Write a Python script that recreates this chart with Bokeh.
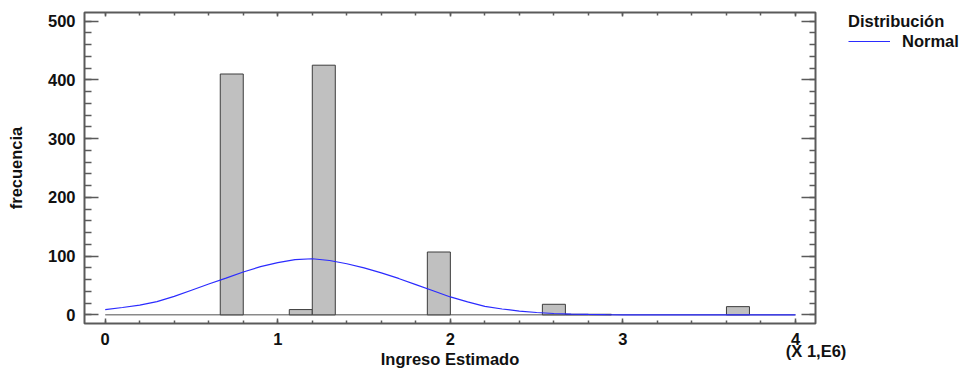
from bokeh.plotting import figure
from bokeh.layouts import row
from bokeh.models import (Range1d, LinearAxis, SingleIntervalTicker, Legend, LegendItem,
                          ColumnDataSource)
from bokeh.embed import file_html
from bokeh.resources import INLINE

# ---- data (income in units of 1e6) ----
bin_lo = [0.6667, 1.0667, 1.2000, 1.8667, 2.5333, 2.6667, 2.8000, 3.6000]
bin_hi = [0.8000, 1.2000, 1.3333, 2.0000, 2.6667, 2.8000, 2.9333, 3.7333]
freq = [410, 9, 425, 107, 18, 1, 1, 14]

# fitted normal curve
curve_x = [0.0, 0.1, 0.2, 0.3, 0.4, 0.5, 0.6, 0.7, 0.8, 0.9, 1.0, 1.1, 1.2, 1.3, 1.4,
           1.5, 1.6, 1.7, 1.8, 1.9, 2.0, 2.1, 2.2, 2.3, 2.4, 2.5, 2.6, 2.7, 2.8, 2.9,
           3.0, 3.2, 3.4, 3.6, 3.8, 4.0]
curve_y = [9.0, 12.5, 16.5, 22.5, 31.5, 42.0, 52.5, 62.5, 73.0, 82.0, 89.0, 94.0, 95.5,
           92.5, 87.0, 80.0, 71.5, 62.0, 51.5, 41.0, 30.5, 22.0, 14.5, 10.0, 6.5, 4.0,
           2.3, 1.3, 0.7, 0.3, 0.1, 0.0, 0.0, 0.0, 0.0, 0.0]

x_title = "Ingreso Estimado"
y_title = "frecuencia"
scale_note = "(X 1,E6)"
legend_title = "Distribución"
legend_label = "Normal"

FONT = "Liberation Sans"
FS = "16.5px"
TXT = "#111111"
GRAY = "#5a5a5a"
BLUE = "#2b2bff"

MAIN_W = 848

p = figure(width=MAIN_W, height=371, output_backend="svg", toolbar_location=None,
           x_range=Range1d(-0.12, 4.116), y_range=Range1d(-14.7, 514.7),
           x_axis_location=None, y_axis_location=None,
           min_border_left=84, min_border_right=MAIN_W - 815, min_border_top=12,
           min_border_bottom=46)
p.grid.visible = False
p.outline_line_color = GRAY
p.outline_line_width = 2
p.background_fill_color = "white"
p.border_fill_color = "white"

# zero baseline under the distribution
p.line([curve_x[0], curve_x[-1]], [0, 0], line_color="#8a8a8a", line_width=1.5)

src = ColumnDataSource(dict(lo=bin_lo, hi=bin_hi, top=freq, bottom=[0] * len(freq)))
p.quad(left="lo", right="hi", top="top", bottom="bottom", source=src,
       fill_color="#c0c0c0", line_color="#3c3c3c", line_width=1)

p.line(curve_x, curve_y, line_color=BLUE, line_width=1.2)

xt = SingleIntervalTicker(interval=1, num_minor_ticks=5)
yt = SingleIntervalTicker(interval=100, num_minor_ticks=5)

def style(ax, tin, tmin, labels=True):
    ax.axis_line_color = None
    ax.major_tick_line_color = GRAY
    ax.minor_tick_line_color = GRAY
    ax.major_tick_line_width = 1.5
    ax.minor_tick_line_width = 1.5
    ax.major_tick_in = tin
    ax.major_tick_out = 0
    ax.minor_tick_in = tmin
    ax.minor_tick_out = 0
    if labels:
        ax.major_label_text_font = FONT
        ax.major_label_text_font_style = "bold"
        ax.major_label_text_font_size = FS
        ax.major_label_text_color = TXT
        ax.axis_label_text_font = FONT
        ax.axis_label_text_font_style = "bold"
        ax.axis_label_text_font_size = FS
        ax.axis_label_text_color = TXT
    else:
        ax.major_label_text_font_size = "0px"
        ax.major_label_standoff = 0

xb = LinearAxis(ticker=xt, axis_label=x_title)
style(xb, 5, 3)
xb.major_label_standoff = 6
xb.major_label_text_line_height = 0.7
xb.major_label_overrides = {4: "4\n" + "\u00a0" * 9 + scale_note}
xb.axis_label_standoff = -13
xb.axis_label_text_line_height = 0.8
p.add_layout(xb, "below")

yl = LinearAxis(ticker=yt, axis_label=y_title)
style(yl, 14, 7)
yl.major_label_standoff = 9
yl.axis_label_standoff = 20
p.add_layout(yl, "left")

xa = LinearAxis(ticker=xt)
style(xa, 4, 3, labels=False)
p.add_layout(xa, "above")

yr = LinearAxis(ticker=yt)
style(yr, 14, 6, labels=False)
p.add_layout(yr, "right")

# ---- legend panel (separate figure to the right of the plot) ----
lf = figure(width=964 - MAIN_W, height=371, output_backend="svg", toolbar_location=None,
            x_range=Range1d(0, 1), y_range=Range1d(0, 1),
            x_axis_location=None, y_axis_location=None, min_border=0)
lf.grid.visible = False
lf.outline_line_color = None
lf.border_fill_color = "white"
lf.background_fill_color = "white"
key_line = lf.line([2, 3], [2, 3], line_color=BLUE, line_width=1.2)

leg = Legend(items=[LegendItem(label=legend_label, renderers=[key_line])], title=legend_title,
             location="top_left", orientation="vertical",
             border_line_color=None, background_fill_alpha=0,
             title_text_font=FONT, title_text_font_style="bold", title_text_font_size=FS,
             title_text_color=TXT, label_text_font=FONT, label_text_font_style="bold",
             label_text_font_size=FS, label_text_color=TXT,
             glyph_width=42, label_standoff=12, padding=0, margin=0, spacing=0,
             title_standoff=0)
lf.add_layout(leg, "center")

open("out.html", "w").write(file_html(row(p, lf), INLINE))
